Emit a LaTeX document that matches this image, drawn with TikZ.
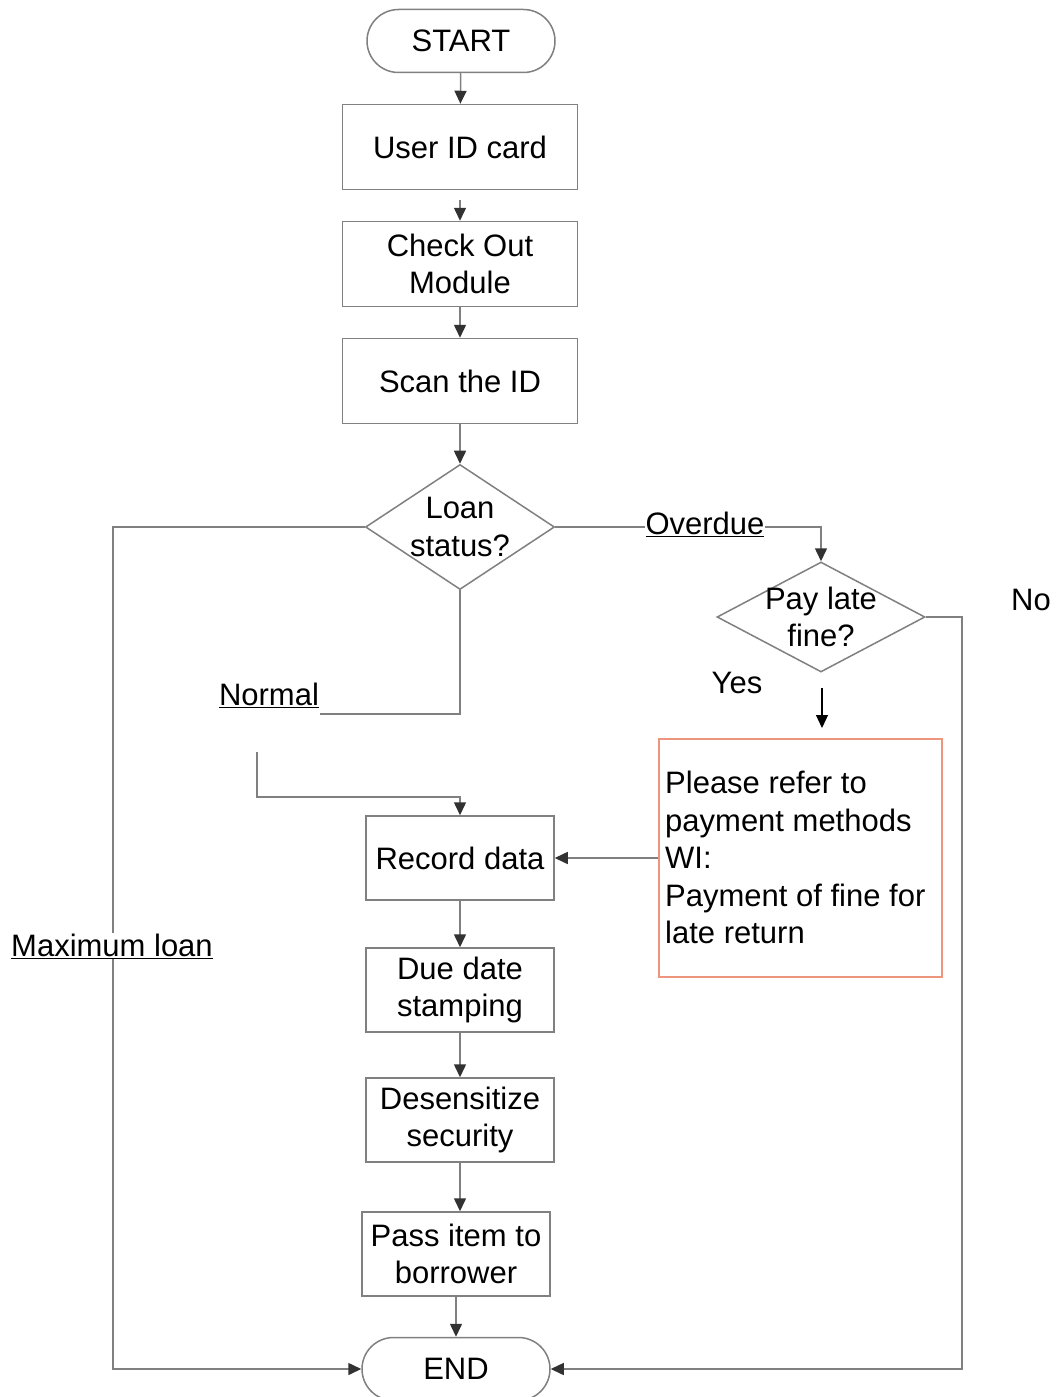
\documentclass[tikz,border=0pt]{standalone}
\usepackage{fontspec}
\setmainfont{Liberation Sans}
\usetikzlibrary{shapes.geometric,shapes.misc,arrows.meta}
\definecolor{linegray}{RGB}{128,128,128}
\definecolor{tipgray}{RGB}{50,50,50}
\definecolor{salmon}{RGB}{238,150,125}
\begin{document}
\begin{tikzpicture}[x=1pt,y=-1pt,
  font=\fontsize{31}{37.5}\selectfont,
  line/.style={draw=linegray,line width=1.5pt},
  arr/.style={line,-{Triangle[width=12pt,length=13pt,color=tipgray]}},
  term/.style={rounded rectangle,draw=linegray,line width=1.5pt,minimum width=188pt,minimum height=63pt,inner sep=0pt},
  procw/.style={rectangle,draw=linegray,line width=1.5pt,minimum width=235pt,minimum height=85pt,align=center,inner sep=0pt},
  procn/.style={rectangle,draw=linegray,line width=1.5pt,minimum width=188pt,minimum height=84pt,align=center,inner sep=0pt},
  dia/.style={diamond,draw=linegray,line width=1.5pt,inner sep=0pt},
  lab/.style={fill=white,inner sep=1pt}
]
\fill[white] (0,0) rectangle (1056,1397);
\useasboundingbox (0,0) rectangle (1056,1397);

\node[term] (start) at (461,41) {START};
\node[procw] (uid) at (460,147) {User ID card};
\node[procw] (co) at (460,264) {Check Out\\Module};
\node[procw] (scan) at (460,381) {Scan the ID};
\node[dia,minimum width=189pt,minimum height=125pt,
  label={[align=center,name=loantxt]center:Loan\\status?}] (loan) at (460,527) {};
\node[dia,minimum width=208pt,minimum height=110pt,
  label={[align=center,name=paytxt]center:Pay late\\fine?}] (pay) at (821,617) {};
\node[draw=salmon,line width=1.2pt,minimum width=283pt,minimum height=238pt,inner sep=0pt] (pm) at (800.5,858) {};
\node[anchor=north west,align=left,inner sep=0pt] (pmt) at (665,771)
  {Please refer to\\payment methods\\WI:\\Payment of fine for\\late return};
\node[procn] (rec) at (460,858) {Record data};
\node[procn] (due) at (460,990) {Due date\\stamping};
\node[procn] (des) at (460,1120) {Desensitize\\security};
\node[procn] (pass) at (456,1254) {Pass item to\\borrower};
\node[term] (end) at (456,1369) {END};

% labels
\node (no) at (1031,600) {No};
\node (yes) at (737,683) {Yes};
\node (normal) at (269,695) {\underline{Normal}};

% coordinates
\coordinate (nend) at (320,714);
\coordinate (nstart) at (257,752);
\coordinate (nbend) at (257,797);
\coordinate (ys) at (822,688);
\coordinate (ye) at (822,728);
\coordinate (nox) at (962,617);
\coordinate (mx) at (113,527);

% connectors
\draw[arr] (start) -- (uid);
\draw[arr,shorten <=10pt] (uid) -- (co);
\draw[arr] (co) -- (scan);
\draw[arr] (scan) -- (loan);
\draw[arr] (loan.east) -| (pay.north);
\node[lab] (overdue) at (705,524) {\underline{Overdue}};
\draw[line] (loan.south) |- (nend);
\draw[arr] (nstart) -- (nbend) -| (rec.north);
\draw[arr,draw=black,line width=1.2pt,-{Triangle[width=12pt,length=13pt,color=black]}] (ys) -- (ye);
\draw[arr] (pay.east) -- (nox) |- (end.east);
\draw[arr] (loan.west) -- (mx) |- (end.west);
\node[lab] (maxl) at (112,946) {\underline{Maximum loan}};
\draw[arr] (pm) -- (rec);
\draw[arr] (rec) -- (due);
\draw[arr] (due) -- (des);
\draw[arr] (des.south) -- (des.south |- pass.north);
\draw[arr] (pass) -- (end);
\end{tikzpicture}
\end{document}
